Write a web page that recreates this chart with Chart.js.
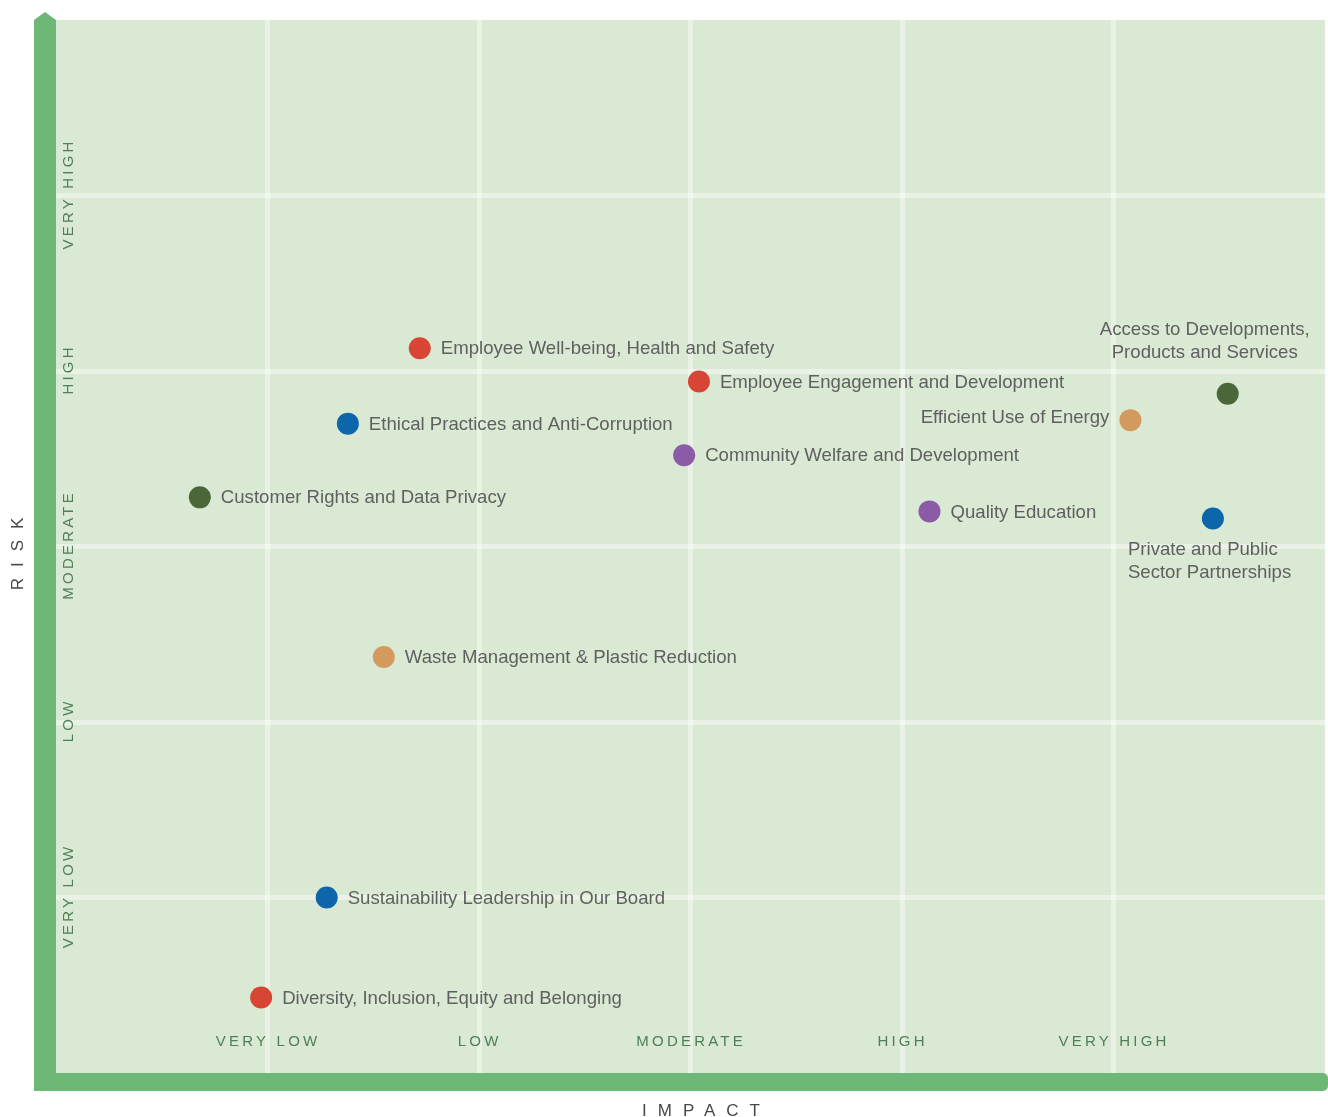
<!DOCTYPE html>
<html>
<head>
<meta charset="utf-8">
<title>Materiality Matrix</title>
<script src="https://cdn.jsdelivr.net/npm/chart.js@4.4.1/dist/chart.umd.min.js"></script>
<style>
  html, body { margin: 0; padding: 0; background: #fff; }
  canvas { display: block; }
</style>
</head>
<body>
<canvas id="matrix" width="1328" height="1117"></canvas>
<script>
// topics, with impact (x) and risk (y) scores on a 0-6 scale
const topics = [
    "Employee Well-being, Health and Safety",
    "Employee Engagement and Development",
    "Ethical Practices and Anti-Corruption",
    "Community Welfare and Development",
    "Customer Rights and Data Privacy",
    "Quality Education",
    "Efficient Use of Energy",
    ["Access to Developments,", "Products and Services"],
    ["Private and Public", "Sector Partnerships"],
    "Waste Management & Plastic Reduction",
    "Sustainability Leadership in Our Board",
    "Diversity, Inclusion, Equity and Belonging"
];
const impact = [1.72, 3.04, 1.38, 2.97, 0.68, 4.13, 5.08, 5.54, 5.47, 1.55, 1.28, 0.97];
const risk   = [4.13, 3.94, 3.70, 3.52, 3.28, 3.20, 3.72, 3.87, 3.16, 2.37, 1.00, 0.43];
const topicColors = ["#d94535", "#d94535", "#0d66a9", "#8b5ba8", "#4b6739", "#8b5ba8",
                     "#d39a5e", "#4b6739", "#0d66a9", "#d39a5e", "#0d66a9", "#d94535"];
const levels = ["VERY LOW", "LOW", "MODERATE", "HIGH", "VERY HIGH"];

// where each topic's text sits relative to its dot
const labelSide = ["right", "right", "right", "right", "right", "right",
                   "left", "above", "below", "right", "right", "right"];

const GREEN = "#6db877";
const TICK_COLOR = "#4f7f57";
const TEXT_COLOR = "#606060";

function spacedText(ctx, text, x, y, spacing) {
    ctx.letterSpacing = spacing + "px";
    ctx.fillText(text, x + spacing / 2, y);
    ctx.letterSpacing = "0px";
}

const matrixFrame = {
    id: "matrixFrame",
    beforeDraw(chart) {
        const { ctx, chartArea: a } = chart;
        ctx.save();
        ctx.fillStyle = "#dae9d3";
        ctx.fillRect(a.left, a.top, a.right - a.left, a.bottom - a.top);

        // vertical axis bar with arrow tip
        ctx.fillStyle = GREEN;
        ctx.beginPath();
        ctx.moveTo(a.left - 22, a.bottom);
        ctx.lineTo(a.left - 22, a.top);
        ctx.lineTo(a.left - 11, a.top - 8);
        ctx.lineTo(a.left, a.top);
        ctx.lineTo(a.left, a.bottom);
        ctx.closePath();
        ctx.fill();

        // horizontal axis bar
        ctx.beginPath();
        ctx.roundRect(a.left - 22, a.bottom, a.right - a.left + 25, 18, [0, 5, 5, 0]);
        ctx.fill();
        ctx.restore();
    },
    afterDatasetsDraw(chart) {
        const { ctx, chartArea: a, scales } = chart;
        ctx.save();

        // level labels along both axes
        ctx.fillStyle = TICK_COLOR;
        ctx.font = "15px 'Liberation Sans', Arial, sans-serif";
        ctx.textAlign = "center";
        ctx.textBaseline = "middle";
        levels.forEach((lv, i) => {
            const x = scales.x.getPixelForValue(i + 1);
            spacedText(ctx, lv, x - 1, a.bottom - 31, 3.2);
            const y = scales.y.getPixelForValue(i + 1);
            ctx.save();
            ctx.translate(a.left + 13, y);
            ctx.rotate(-Math.PI / 2);
            spacedText(ctx, lv, 0, 0, 3.2);
            ctx.restore();
        });

        // axis titles
        ctx.fillStyle = "#484848";
        ctx.font = "17px 'Liberation Sans', Arial, sans-serif";
        spacedText(ctx, "IMPACT", 701, 1111, 11);
        ctx.save();
        ctx.translate(18, 554);
        ctx.rotate(-Math.PI / 2);
        spacedText(ctx, "RISK", 0, 0, 11);
        ctx.restore();

        // topic names next to their dots
        ctx.fillStyle = TEXT_COLOR;
        ctx.font = "18.6px 'Liberation Sans', Arial, sans-serif";
        const pts = chart.getDatasetMeta(0).data;
        pts.forEach((p, i) => {
            const t = topics[i];
            const side = labelSide[i];
            if (side === "right") {
                ctx.textAlign = "left";
                ctx.fillText(t, p.x + 21, p.y + 1);
            } else if (side === "left") {
                ctx.textAlign = "right";
                ctx.fillText(t, p.x - 21, p.y - 2);
            } else if (side === "above") {
                ctx.textAlign = "center";
                ctx.fillText(t[0], p.x - 23, p.y - 64);
                ctx.fillText(t[1], p.x - 23, p.y - 41);
            } else {
                ctx.textAlign = "left";
                ctx.fillText(t[0], p.x - 85, p.y + 31);
                ctx.fillText(t[1], p.x - 85, p.y + 54);
            }
        });
        ctx.restore();
    }
};

const gridLine = c => (c.tick && c.tick.value >= 1 && c.tick.value <= 5)
    ? "rgba(255,255,255,0.42)" : "rgba(0,0,0,0)";

new Chart(document.getElementById("matrix"), {
    type: "scatter",
    data: {
        datasets: [{
            data: impact.map((v, i) => ({ x: v, y: risk[i] })),
            pointRadius: 11,
            pointHoverRadius: 11,
            pointBorderWidth: 0,
            pointBackgroundColor: topicColors,
            pointHoverBackgroundColor: topicColors
        }]
    },
    options: {
        responsive: false,
        animation: false,
        layout: { autoPadding: false, padding: { left: 56, top: 20, right: 3, bottom: 44 } },
        plugins: { legend: { display: false }, tooltip: { enabled: false } },
        scales: {
            x: {
                min: 0, max: 6,
                ticks: { display: false, stepSize: 1 },
                grid: { color: gridLine, lineWidth: 5, drawTicks: false },
                border: { display: false },
                afterFit: s => { s.height = 0; }
            },
            y: {
                min: 0, max: 6,
                ticks: { display: false, stepSize: 1 },
                grid: { color: gridLine, lineWidth: 5, drawTicks: false },
                border: { display: false },
                afterFit: s => { s.width = 0; }
            }
        }
    },
    plugins: [matrixFrame]
});
</script>
</body>
</html>
